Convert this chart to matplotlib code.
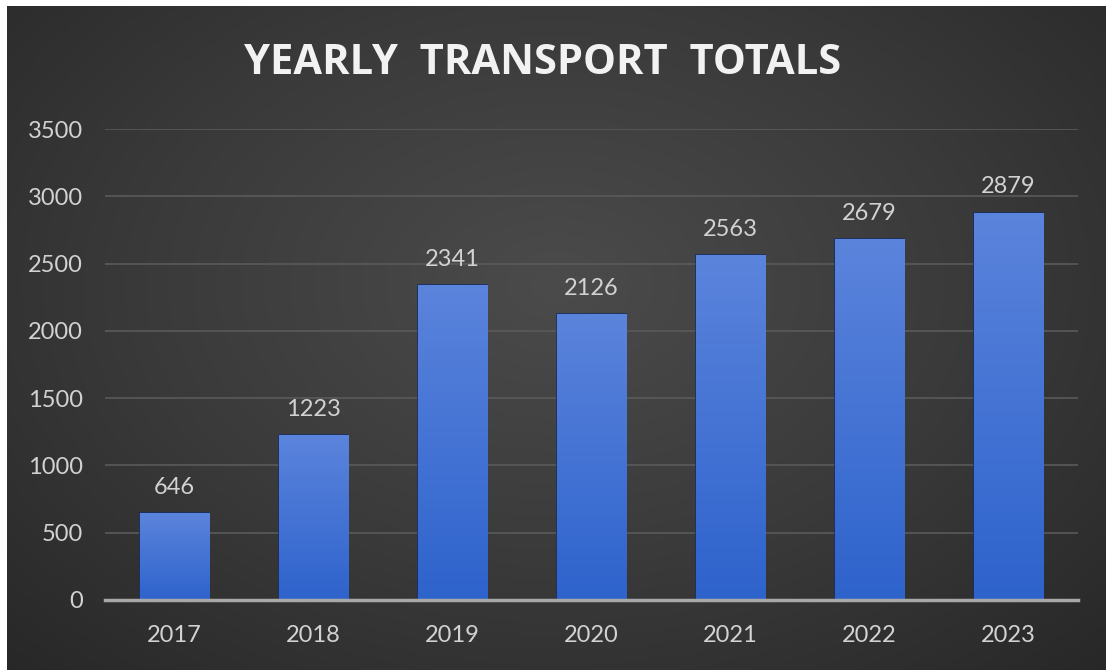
import numpy as np
import matplotlib
matplotlib.use("Agg")
import matplotlib.pyplot as plt
from matplotlib.colors import LinearSegmentedColormap

years = ["2017", "2018", "2019", "2020", "2021", "2022", "2023"]
totals = [646, 1223, 2341, 2126, 2563, 2679, 2879]
y_ticks = [0, 500, 1000, 1500, 2000, 2500, 3000, 3500]
title = "YEARLY TRANSPORT TOTALS"

W, H, DPI = 1106, 670, 100
fig = plt.figure(figsize=(W / DPI, H / DPI), dpi=DPI, facecolor="white")

# Dark radial-gradient panel behind the chart
bg = fig.add_axes([7 / W, 0, 1 - 7 / W, 1 - 6 / H])
bg.set_axis_off()
yy, xx = np.mgrid[0:1:300j, 0:1:500j]
r = np.sqrt(((xx - 0.5) / 0.75) ** 2 + ((yy - 0.42) / 0.85) ** 2)
shade = np.clip(r, 0, 1)
bg_cmap = LinearSegmentedColormap.from_list("bg", ["#4b4b4b", "#3a3a3a", "#262626"])
bg.imshow(shade, cmap=bg_cmap, aspect="auto", extent=[0, 1, 0, 1], origin="upper",
          vmin=0, vmax=1)
bg.set_xlim(0, 1)
bg.set_ylim(0, 1)

ax = fig.add_axes([105 / W, 1 - 600 / H, (1078 - 105) / W, (600 - 129) / H])
ax.patch.set_alpha(0)
x = np.arange(len(years))
bars = ax.bar(x, totals, width=0.5, color="#3f6fd6", edgecolor="#1b2f66",
              linewidth=1.2, zorder=3)

# Vertical blue gradient inside each bar
bar_cmap = LinearSegmentedColormap.from_list("bar", ["#2e63cc", "#5b84dc"])
grad = np.linspace(0, 1, 256).reshape(-1, 1)
for b in bars:
    x0, y0 = b.get_x(), b.get_y()
    w, h = b.get_width(), b.get_height()
    im = ax.imshow(grad, cmap=bar_cmap, aspect="auto", origin="lower",
                   extent=[x0, x0 + w, y0, y0 + h], zorder=3.5)
    im.set_clip_path(b)

ax.set_xlim(-0.5, len(years) - 0.5)
ax.set_ylim(0, 3500)
ax.set_yticks(y_ticks)
ax.set_yticklabels([str(t) for t in y_ticks])
ax.set_xticks(x)
ax.set_xticklabels(years)

label_font = dict(family=["Lato", "DejaVu Sans"], size=17, color="#d2d2d2")
for lab in ax.get_xticklabels() + ax.get_yticklabels():
    lab.set_fontfamily(["Lato", "DejaVu Sans"])
    lab.set_fontsize(17)
    lab.set_color("#d2d2d2")
ax.tick_params(axis="both", length=0)
ax.tick_params(axis="y", pad=16)
ax.tick_params(axis="x", pad=18)

ax.grid(axis="y", color="#5a5a5a", linewidth=1.2, zorder=0)
ax.set_axisbelow(True)
for s in ["top", "right", "left"]:
    ax.spines[s].set_visible(False)
ax.spines["bottom"].set_color("#a8a8a8")
ax.spines["bottom"].set_linewidth(2.5)
ax.spines["bottom"].set_zorder(5)

for xi, v in zip(x, totals):
    ax.annotate(f"{v}", (xi, v), xytext=(0, 11), textcoords="offset points",
                ha="center", va="bottom", **label_font)

fig.text(543 / W, 1 - 64 / H, "  ".join(title.split(" ")), ha="center", va="center",
         family=["Open Sans", "DejaVu Sans"], fontweight="bold", fontsize=30,
         color="#f2f2f2")

fig.savefig("out.png", dpi=DPI, facecolor=fig.get_facecolor())
